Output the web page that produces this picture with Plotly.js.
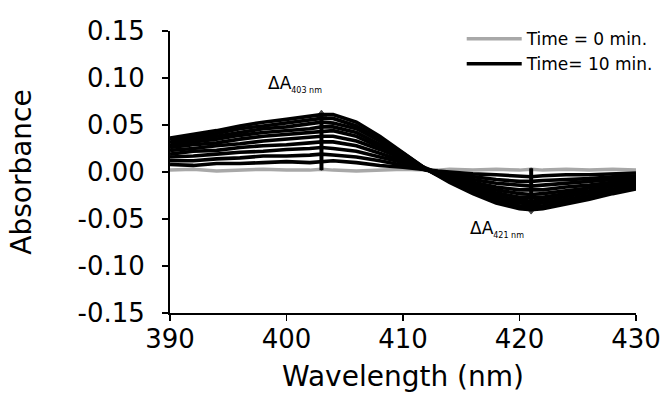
<!DOCTYPE html>
<html>
<head>
<meta charset="utf-8">
<script src="https://cdn.plot.ly/plotly-3.0.1.min.js"></script>
<style>html,body{margin:0;padding:0;background:#fff;}#chart{width:661px;height:396px;}</style>
</head>
<body>
<div id="chart"></div>
<script>
// Wavelengths (nm)
const wavelength = [390,392,394,396,398,400,402,403,404,406,408,410,412,413,414,416,418,420,421,422,424,426,428,430];

// Difference spectra, one per time point (min)
const times = [0,1,2,3,4,5,6,7,8,9,10];
const absT0  = [0.002,0.003,0.001,0.002,0.003,0.002,0.002,0.003,0.002,0.001,0.002,0.003,0.002,0.002,0.003,0.002,0.003,0.002,0.003,0.002,0.003,0.002,0.003,0.002];
const absT1  = [0.008,0.007,0.009,0.009,0.010,0.011,0.010,0.011,0.012,0.010,0.007,0.005,0.002,0.001,0.000,-0.002,-0.003,-0.004,-0.005,-0.004,-0.003,-0.003,-0.002,-0.001];
const absT2  = [0.012,0.012,0.014,0.015,0.017,0.017,0.018,0.019,0.018,0.016,0.012,0.007,0.002,0.000,-0.002,-0.005,-0.008,-0.010,-0.010,-0.009,-0.008,-0.007,-0.005,-0.004];
const absT3  = [0.016,0.017,0.019,0.021,0.022,0.024,0.025,0.026,0.025,0.022,0.016,0.010,0.002,0.000,-0.003,-0.008,-0.012,-0.014,-0.015,-0.014,-0.012,-0.010,-0.008,-0.006];
const absT4  = [0.019,0.022,0.023,0.026,0.028,0.029,0.031,0.032,0.032,0.028,0.020,0.012,0.003,-0.001,-0.005,-0.011,-0.016,-0.019,-0.019,-0.019,-0.016,-0.014,-0.011,-0.008];
const absT5  = [0.023,0.025,0.028,0.030,0.033,0.035,0.037,0.038,0.038,0.033,0.024,0.014,0.003,-0.002,-0.006,-0.013,-0.019,-0.023,-0.024,-0.023,-0.020,-0.017,-0.013,-0.010];
const absT6  = [0.026,0.029,0.031,0.035,0.038,0.040,0.042,0.043,0.044,0.038,0.027,0.015,0.003,-0.002,-0.007,-0.016,-0.022,-0.027,-0.027,-0.027,-0.023,-0.020,-0.015,-0.012];
const absT7  = [0.028,0.032,0.035,0.039,0.042,0.044,0.046,0.048,0.048,0.042,0.030,0.017,0.003,-0.003,-0.008,-0.018,-0.025,-0.030,-0.031,-0.030,-0.026,-0.022,-0.018,-0.014];
const absT8  = [0.031,0.035,0.038,0.042,0.046,0.048,0.051,0.053,0.052,0.046,0.033,0.018,0.003,-0.003,-0.009,-0.020,-0.028,-0.033,-0.034,-0.033,-0.029,-0.025,-0.020,-0.015];
const absT9  = [0.034,0.037,0.041,0.046,0.049,0.052,0.055,0.057,0.057,0.049,0.035,0.020,0.003,-0.004,-0.010,-0.021,-0.031,-0.036,-0.037,-0.036,-0.032,-0.027,-0.021,-0.017];
const absT10 = [0.036,0.040,0.044,0.049,0.053,0.056,0.059,0.061,0.061,0.053,0.038,0.021,0.003,-0.004,-0.011,-0.023,-0.033,-0.039,-0.040,-0.039,-0.034,-0.029,-0.023,-0.018];
const spectra = [absT0,absT1,absT2,absT3,absT4,absT5,absT6,absT7,absT8,absT9,absT10];
const legendNames = {0: "Time = 0 min.", 10: "Time= 10 min."};

// Delta-A markers
const deltaWave  = [403, 421];
const deltaFrom  = [0.002, 0.004];
const deltaTo    = [0.061, -0.040];
const deltaLabel = ["403 nm", "421 nm"];
const deltaLabelX = [398.2, 415.6];
const deltaLabelY = [0.094, -0.061];

// Tick labels
const xTickVals = [390,400,410,420,430];
const xTickText = ["390","400","410","420","430"];
const yTickVals = [0.15,0.10,0.05,0.00,-0.05,-0.10,-0.15];
const yTickText = ["0.15","0.10","0.05","0.00","-0.05","-0.10","-0.15"];

const traces = spectra.map((ys, i) => ({
  type: "scatter",
  mode: "lines",
  x: wavelength,
  y: ys,
  name: legendNames[times[i]] || ("Time = " + times[i] + " min."),
  showlegend: times[i] === 0 || times[i] === 10,
  line: {color: times[i] === 0 ? "#a8a8a8" : "#000000", width: times[i] === 0 ? 3.5 : 3.6},
  hoverinfo: "skip"
}));

// Delta-A vertical markers
deltaWave.forEach((w, i) => {
  traces.push({
    type: "scatter",
    mode: "lines+markers",
    x: [w, w],
    y: [deltaFrom[i], deltaTo[i]],
    showlegend: false,
    hoverinfo: "skip",
    line: {color: "#000", width: 4},
    marker: {
      symbol: deltaTo[i] > deltaFrom[i] ? ["line-ew", "triangle-up"] : ["line-ew", "triangle-down"],
      size: [1, 9], color: "#000", line: {color: "#000", width: 1}
    }
  });
});

const annotations = deltaWave.map((w, i) => ({
  x: deltaLabelX[i], y: deltaLabelY[i], xref: "x", yref: "y",
  xanchor: "left", yanchor: "middle", showarrow: false,
  text: "ΔA<sub><span style='font-size:8px'>" + deltaLabel[i] + "</span></sub>",
  font: {family: "DejaVu Sans", size: 17, color: "#000"}
}));

const layout = {
  width: 661, height: 396,
  margin: {l: 170, r: 25, t: 31, b: 83, autoexpand: false},
  paper_bgcolor: "#fff", plot_bgcolor: "#fff",
  font: {family: "DejaVu Sans", color: "#000"},
  showlegend: true,
  legend: {
    x: 0.626, y: 1.035, xanchor: "left", yanchor: "top",
    bgcolor: "rgba(0,0,0,0)", borderwidth: 0,
    font: {family: "DejaVu Sans", size: 17, color: "#000"},
    itemwidth: 55, tracegroupgap: 0
  },
  xaxis: {
    range: [390, 430], tickvals: xTickVals, ticktext: xTickText,
    showline: true, linecolor: "#000", linewidth: 2, mirror: false,
    ticks: "outside", ticklen: 6, tickwidth: 1.5, tickcolor: "#000",
    ticklabelstandoff: -4,
    showgrid: false, zeroline: false,
    tickfont: {family: "DejaVu Sans", size: 26, color: "#000"},
    title: {text: "Wavelength (nm)", font: {family: "DejaVu Sans", size: 28, color: "#000"}, standoff: 13}
  },
  yaxis: {
    range: [-0.15, 0.15], tickvals: yTickVals, ticktext: yTickText,
    showline: true, linecolor: "#000", linewidth: 2, mirror: false,
    ticks: "outside", ticklen: 6, tickwidth: 1.5, tickcolor: "#000",
    ticklabelstandoff: 12,
    showgrid: false, zeroline: false,
    tickfont: {family: "DejaVu Sans", size: 26, color: "#000"},
    title: {text: "Absorbance", font: {family: "DejaVu Sans", size: 28, color: "#000"}, standoff: 38}
  },
  annotations: annotations
};

Plotly.newPlot("chart", traces, layout, {displayModeBar: false, staticPlot: true});
</script>
</body>
</html>
